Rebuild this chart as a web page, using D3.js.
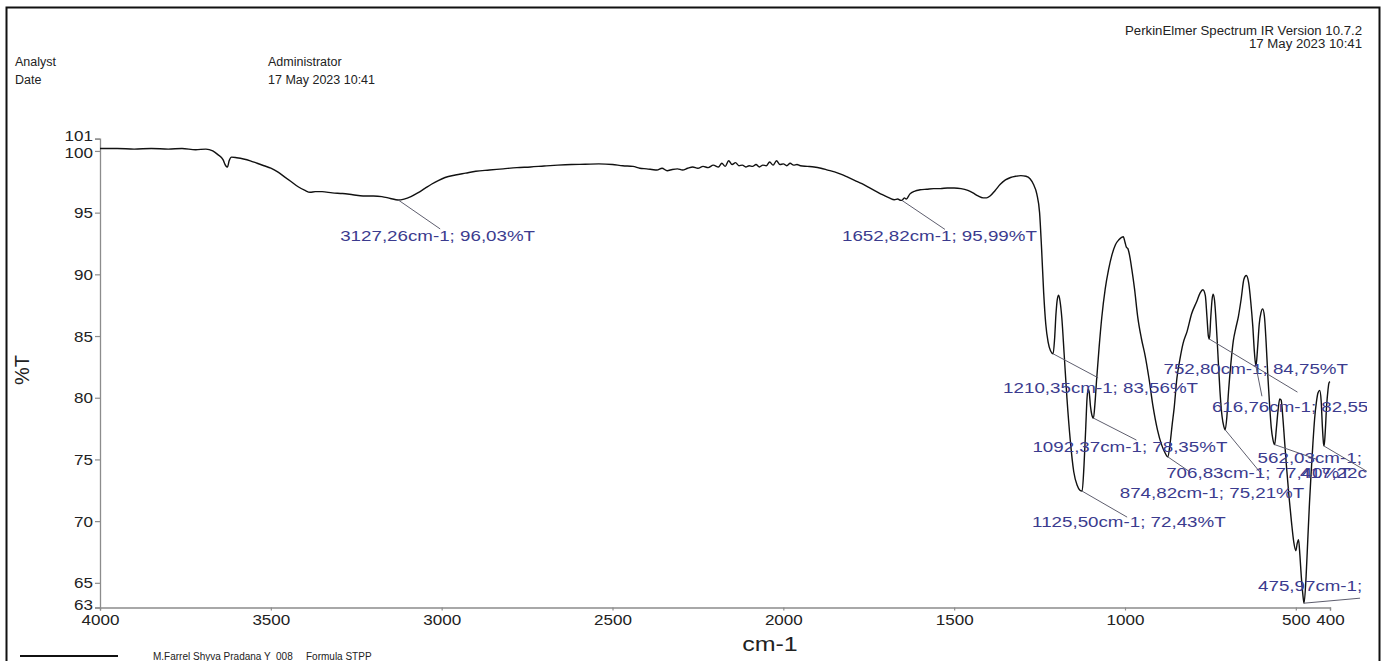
<!DOCTYPE html>
<html>
<head>
<meta charset="utf-8">
<script src="https://cdn.jsdelivr.net/npm/d3@7"></script>
<style>
  body { margin: 0; background: #fff; }
  text { font-family: "Liberation Sans", Arial, sans-serif; }
</style>
</head>
<body>
<div id="chartdiv"></div>
<script>
// spectrum (cm-1 / %T), one line of wavenumbers per line of values
var wavenumbers = [
    4000, 3950, 3900, 3850, 3800, 3760, 3720, 3690, 3670, 3655,
    3640, 3632, 3627, 3622, 3615, 3600, 3580, 3560, 3540, 3520,
    3500, 3480, 3460, 3440, 3420, 3400, 3385, 3370, 3350, 3320,
    3290, 3260, 3230, 3200, 3175, 3150, 3127.26, 3110, 3090, 3070,
    3050, 3030, 3010, 2990, 2960, 2930, 2900, 2860, 2820, 2780,
    2740, 2700, 2660, 2620, 2580, 2540, 2500, 2470, 2440, 2420,
    2400, 2385, 2370, 2355, 2340, 2325, 2310, 2295, 2280, 2265,
    2250, 2235, 2220, 2205, 2190, 2180, 2170, 2160, 2150, 2140,
    2130, 2120, 2110, 2100, 2090, 2080, 2070, 2060, 2050, 2040,
    2030, 2020, 2010, 2000, 1990, 1980, 1970, 1960, 1950, 1930,
    1910, 1890, 1870, 1850, 1830, 1810, 1790, 1770, 1750, 1730,
    1710, 1690, 1675, 1665, 1658, 1652.82, 1646, 1640, 1630, 1615,
    1600, 1580, 1560, 1540, 1520, 1500, 1480, 1460, 1445, 1430,
    1415, 1405, 1395, 1380, 1365, 1350, 1335, 1320, 1305, 1290,
    1278, 1268, 1258, 1250, 1244, 1238, 1232, 1225, 1218, 1210.35,
    1206, 1202, 1198, 1194, 1190, 1185, 1178, 1170, 1160, 1150,
    1140, 1132, 1125.5, 1120, 1115, 1111, 1108, 1105, 1101, 1097,
    1092.37, 1088, 1083, 1076, 1068, 1058, 1048, 1038, 1028, 1018,
    1010, 1005, 1000, 996, 992, 987, 980, 972, 963, 952,
    941, 930, 918, 905, 893, 884, 874.82, 868, 862, 856,
    848, 840, 830, 818, 805, 790, 780, 772, 765, 760,
    756, 752.8, 749, 745, 742, 738, 733, 728, 722, 716,
    711, 706.83, 702, 697, 690, 683, 676, 668, 660, 652,
    645, 638, 632, 626, 621, 616.76, 612, 607, 602, 597,
    592, 587, 582, 577, 572, 567, 562.03, 557, 552, 547,
    543, 538, 533, 527, 520, 513, 506, 500, 496, 492,
    488, 484, 480, 475.97, 470, 465, 460, 455, 450, 445,
    440, 435, 430, 426, 422, 419, 417.22, 414, 410, 406,
    403, 400
];
var transmittance = [
    100.2, 100.2, 100.15, 100.2, 100.15, 100.2, 100.1, 100.15, 100.0, 99.7,
    99.3, 98.8, 98.7, 99.2, 99.5, 99.45, 99.35, 99.2, 99.0, 98.8,
    98.6, 98.3, 97.9, 97.5, 97.1, 96.8, 96.65, 96.7, 96.7, 96.6,
    96.55, 96.45, 96.35, 96.35, 96.3, 96.15, 96.03, 96.1, 96.3, 96.6,
    96.95, 97.3, 97.6, 97.85, 98.05, 98.2, 98.35, 98.45, 98.55, 98.65,
    98.7, 98.78, 98.85, 98.9, 98.92, 98.95, 98.9, 98.8, 98.75, 98.6,
    98.55, 98.5, 98.45, 98.6, 98.4, 98.5, 98.55, 98.45, 98.6, 98.7,
    98.6, 98.75, 98.65, 98.85, 98.7, 99.0, 98.75, 99.2, 98.9, 99.05,
    98.8, 98.85, 98.7, 98.8, 98.75, 98.9, 98.7, 98.85, 98.8, 99.1,
    98.85, 99.2, 98.9, 98.95, 98.8, 99.0, 98.85, 98.9, 98.8, 98.75,
    98.7, 98.6, 98.45, 98.3, 98.1, 97.85, 97.6, 97.35, 97.05, 96.75,
    96.45, 96.2, 96.05, 96.1, 96.0, 95.99, 96.2, 96.1, 96.5, 96.75,
    96.85, 96.9, 96.95, 96.95, 97.0, 97.0, 96.95, 96.8, 96.6, 96.35,
    96.2, 96.2, 96.35, 96.8, 97.3, 97.65, 97.85, 97.95, 98.0, 97.95,
    97.75, 97.3, 96.5, 95.0, 92.0, 88.5, 86.0, 84.5, 83.8, 83.56,
    84.8, 86.8, 88.0, 88.3, 87.8, 86.5, 83.5, 80.0, 76.5, 74.0,
    72.9, 72.5, 72.43, 74.5, 77.5, 80.0, 80.7, 80.5, 79.3, 78.6,
    78.35, 79.5, 81.5, 84.0, 86.5, 88.8, 90.4, 91.6, 92.4, 92.8,
    93.0, 93.05, 92.6, 92.2, 92.1, 91.6, 90.4, 88.8, 86.6, 84.8,
    83.4, 81.6, 79.3, 77.4, 76.2, 75.6, 75.21, 76.3, 77.8, 79.2,
    81.6, 83.0, 84.4, 85.4, 86.8, 87.8, 88.5, 88.75, 88.3, 86.5,
    85.0, 84.75, 86.5, 88.0, 88.4, 87.9, 86.0, 83.5, 80.5, 78.5,
    77.7, 77.4, 78.4, 80.5, 82.8, 84.6, 85.6, 86.6, 88.0, 89.6,
    89.9, 89.3, 87.8, 85.8, 83.6, 82.55, 84.0, 86.0, 86.9, 87.2,
    86.6, 84.5, 81.8, 79.5, 77.6, 76.6, 76.2, 77.5, 79.0, 79.9,
    79.8, 78.4, 76.5, 74.3, 72.0, 70.0, 68.3, 67.6, 68.2, 68.5,
    67.2, 65.5, 64.2, 63.35, 65.5, 68.5, 71.5, 74.0, 76.3, 78.3,
    79.6, 80.4, 80.6, 79.8, 77.5, 76.3, 76.08, 77.2, 79.3, 80.6,
    81.2, 81.3
];

var xTicks = [4000, 3500, 3000, 2500, 2000, 1500, 1000, 500, 400];
var yTicks = [63, 65, 70, 75, 80, 85, 90, 95, 100, 101];

// picked peaks
var peakWavenumbers = [3127.26, 1652.82, 1210.35, 1092.37, 1125.50, 874.82, 752.80, 706.83, 616.76, 562.03, 417.22, 475.97];
var peakValues = [96.03, 95.99, 83.56, 78.35, 72.43, 75.21, 84.75, 77.40, 82.55, 76.20, 76.08, 63.35];

// where each peak label sits, relative to the peak: [leader dx, leader dy, text dx, text dy]
var labelOffsets = [
    [42, 29, -58, 41], [43, 29, -60, 41], [45, 24, -50, 39], [43, 22, -61, 34],
    [45, 26, -50, 36], [22, 15, -48, 41], [88, 53, -46, 35], [37, 45, -59, 48],
    [6, 30, -44, 46], [43, 15, -17, 18], [44, 26, -24, 32], [56, -5, -46, -12]
];

var svgWidth = 1386;
var svgHeight = 661;

var svg = d3.select("#chartdiv")
    .append("svg")
    .attr("width", svgWidth)
    .attr("height", svgHeight);

// stretch text horizontally like the scanned printout
function widen(sel, k) {
    sel.each(function () {
        var w = this.getComputedTextLength();
        d3.select(this).attr("textLength", w * k).attr("lengthAdjust", "spacingAndGlyphs");
    });
}

// page frame
svg.append("rect")
    .attr("x", 6.5).attr("y", 7.5)
    .attr("width", 1373).attr("height", 700)
    .attr("fill", "none")
    .attr("stroke", "#111")
    .attr("stroke-width", 2);

// header
var header = [["Analyst", 15, 66], ["Date", 15, 84], ["Administrator", 268, 66], ["17 May 2023 10:41", 268, 84]];
header.forEach(function (h) {
    svg.append("text").attr("x", h[1]).attr("y", h[2])
        .attr("font-size", 12.5).attr("fill", "#222").text(h[0]);
});
var topRight = svg.append("g");
topRight.append("text").attr("x", 1362).attr("y", 35).attr("text-anchor", "end")
    .attr("font-size", 12).attr("fill", "#222")
    .text("PerkinElmer Spectrum IR Version 10.7.2");
topRight.append("text").attr("x", 1362).attr("y", 48).attr("text-anchor", "end")
    .attr("font-size", 12).attr("fill", "#222")
    .text("17 May 2023 10:41");
widen(topRight.selectAll("text"), 1.1);

var xScale = d3.scaleLinear().domain([4000, 400]).range([100, 1330]);
var yScale = d3.scaleLinear().domain([63, 101]).range([607.5, 138.6]);

var leftAxis = d3.axisLeft(yScale).tickValues(yTicks).tickSize(5).tickPadding(2).tickFormat(d3.format("d"));
var bottomAxis = d3.axisBottom(xScale).tickValues(xTicks).tickSize(3).tickPadding(3).tickFormat(d3.format("d"));

var gy = svg.append("g").call(leftAxis);
var gx = svg.append("g").attr("transform", "translate(0,607.5)").call(bottomAxis);

[gx, gy].forEach(function (g) {
    g.attr("font-family", null).attr("font-size", null);
    g.select(".domain").attr("stroke", "#8c8c8c").attr("stroke-width", 1.3);
    g.selectAll(".tick line").attr("stroke", "#8c8c8c").attr("stroke-width", 1.2);
    g.selectAll(".tick text").attr("font-size", 15.5).attr("fill", "#222");
    widen(g.selectAll(".tick text"), 1.1);
});
gy.attr("transform", "translate(100,0)");
// the 101/100 and 63 labels are nudged apart in the printout
gy.selectAll(".tick text").attr("dy", function (d) {
    return d === 101 ? "0.15em" : d === 100 ? "0.45em" : d === 63 ? "0.1em" : "0.32em";
});

// axis titles
svg.append("text")
    .attr("transform", "translate(29,370) rotate(-90)")
    .attr("text-anchor", "middle")
    .attr("font-size", 20).attr("fill", "#222")
    .text("%T");
var xTitle = svg.append("text")
    .attr("x", 770).attr("y", 651)
    .attr("text-anchor", "middle")
    .attr("font-size", 20).attr("fill", "#222")
    .text("cm-1");
widen(xTitle, 1.25);

// spectrum
var points = wavenumbers.map(function (w, i) { return [w, transmittance[i]]; });
var line = d3.line()
    .x(d => xScale(d[0]))
    .y(d => yScale(d[1]))
    .curve(d3.curveMonotoneX);

svg.append("path")
    .datum(points)
    .attr("d", line)
    .attr("fill", "none")
    .attr("stroke", "#111")
    .attr("stroke-width", 1.4)
    .attr("stroke-linejoin", "round");

// peak labels, cut off at the right edge as on the printout
svg.append("clipPath").attr("id", "labelclip")
    .append("rect").attr("x", 0).attr("y", 0).attr("width", 1367).attr("height", svgHeight);

function comma(v) { return v.toFixed(2).replace(".", ","); }

var labels = svg.append("g").attr("clip-path", "url(#labelclip)");
peakWavenumbers.forEach(function (w, i) {
    var px = xScale(w), py = yScale(peakValues[i]), o = labelOffsets[i];
    labels.append("line")
        .attr("x1", px).attr("y1", py)
        .attr("x2", px + o[0]).attr("y2", py + o[1])
        .attr("stroke", "#5e5e6e").attr("stroke-width", 1);
    labels.append("text")
        .attr("x", px + o[2]).attr("y", py + o[3])
        .attr("font-size", 15).attr("fill", "#3b3b8e")
        .text(comma(w) + "cm-1; " + comma(peakValues[i]) + "%T");
});
widen(labels.selectAll("text"), 1.25);

// legend
svg.append("line")
    .attr("x1", 20).attr("x2", 118).attr("y1", 656).attr("y2", 656)
    .attr("stroke", "#111").attr("stroke-width", 2);
svg.append("text").attr("x", 153).attr("y", 660)
    .attr("font-size", 10).attr("fill", "#222")
    .style("white-space", "pre")
    .text("M.Farrel Shyva Pradana Y  008");
svg.append("text").attr("x", 306).attr("y", 660)
    .attr("font-size", 10).attr("fill", "#222")
    .text("Formula STPP");
</script>
</body>
</html>
